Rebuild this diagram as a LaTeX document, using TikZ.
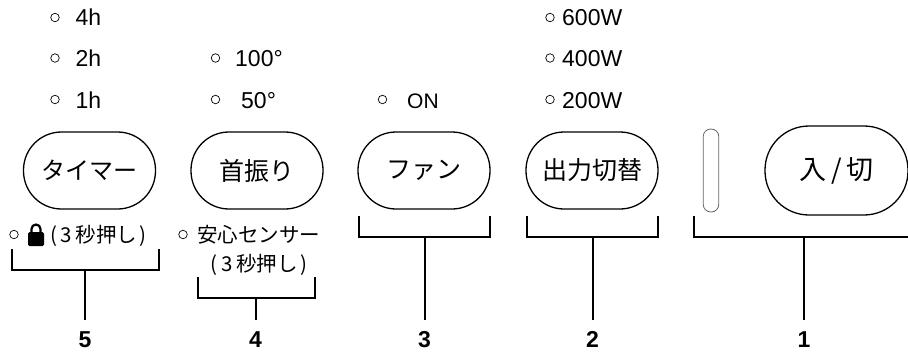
\documentclass[tikz,border=0pt]{standalone}
\usepackage{fontspec}
\setmainfont{Liberation Sans}
\newfontfamily\jpfont{Noto Sans CJK JP}
\begin{document}
\begin{tikzpicture}[x=1pt,y=-1pt,
  btn/.style={draw=black,line width=1.3pt,rounded corners=38pt,minimum width=132pt,minimum height=77pt,inner sep=0pt,anchor=center,font=\jpfont\fontsize{25}{25}\selectfont},
  bracketline/.style={draw=black,line width=2pt,line cap=butt,line join=miter},
  lab/.style={inner sep=0pt,anchor=base west,font=\fontsize{23}{23}\selectfont},
  jp/.style={inner sep=0pt,anchor=base west,font=\jpfont\fontsize{20.5}{20.5}\selectfont},
  num/.style={inner sep=0pt,anchor=base,font=\bfseries\fontsize{23}{23}\selectfont},
  led/.style={draw=black,line width=0.7pt,circle,minimum size=8.5pt,inner sep=0pt}]
\useasboundingbox (0,0) rectangle (908,351);
% indicators and texts
\node[led] (l4h) at (55,17.5) {}; \node[lab] (t4h) at (75.5,25) {4h};
\node[led] (l2h) at (55,58) {};   \node[lab] (t2h) at (75.5,66) {2h};
\node[led] (l1h) at (55,99.5) {}; \node[lab] (t1h) at (75.5,108) {1h};
\node[led] (l100) at (215.5,58) {}; \node[lab] (t100) at (235,66) {100\textdegree};
\node[led] (l50) at (215.5,99.5) {}; \node[lab] (t50) at (241,108) {50\textdegree};
\node[led] (lon) at (382.5,99.5) {}; \node[lab,font=\fontsize{21}{21}\selectfont] (ton) at (407,108) {ON};
\node[led] (l600) at (550,17.5) {}; \node[lab] (t600) at (562,25) {600W};
\node[led] (l400) at (550,58) {};   \node[lab] (t400) at (562,66) {400W};
\node[led] (l200) at (550,99.5) {}; \node[lab] (t200) at (562,108) {200W};
% buttons
\node[btn] (bt) at (89.5,170.5) {\fontsize{24}{24}\selectfont タイマー};
\node[btn] (bn) at (257,170.5) {首振り};
\node[btn] (bf) at (424,170.5) {ファン};
\node[btn] (bo) at (592,170.5) {出力切替};
\node[btn,minimum width=143pt,minimum height=89pt,rounded corners=44pt] (bp) at (836.5,170.5) {\fontsize{27}{27}\selectfont 入\,/\,切};
\node[draw=black!60,line width=0.8pt,rounded corners=7.5pt,minimum width=15.5pt,minimum height=83pt,inner sep=0pt] (slot) at (711,170.5) {};
% notes
\node[led] (llock) at (14,234.5) {};
\fill[black,rounded corners=1.5pt] (28,232) rectangle (44,246);
\draw[black,line width=2.2pt] (31.5,233) -- (31.5,229) arc[start angle=180,end angle=0,radius=4.5pt] -- (40.5,233);
\node[jp] (tlock) at (50,242) {(\hspace{3.5pt}3\hspace{4pt}秒押し\hspace{2.5pt})};
\node[led] (lsafe) at (183,234.5) {};
\node[jp] (tsafe) at (197,242) {安心センサー};
\node[jp] (tsafe2) at (210.5,271) {(\hspace{3.5pt}3\hspace{4pt}秒押し\hspace{2.5pt})};
% brackets
\coordinate (a5) at (85,270); \coordinate (a4) at (255.5,298); \coordinate (a3) at (424.5,237); \coordinate (a2) at (592.5,237); \coordinate (a1) at (804,237);
\node[num] (n5) at (85,347.5) {5};
\node[num] (n4) at (255.5,347.5) {4};
\node[num] (n3) at (424.5,347.5) {3};
\node[num] (n2) at (592.5,347.5) {2};
\node[num] (n1) at (804,347.5) {1};
\draw[bracketline] (12,249) -- (12,270) -- (159,270) -- (159,249);
\draw[bracketline] (197.5,277) -- (197.5,298) -- (314.5,298) -- (314.5,277);
\draw[bracketline] (359,216) -- (359,237) -- (490,237) -- (490,216);
\draw[bracketline] (527,216) -- (527,237) -- (658,237) -- (658,216);
\draw[bracketline] (693.5,216) -- (693.5,237) -- (908,237);
\draw[bracketline] (a5) -- (85,320);
\draw[bracketline] (a4) -- (255.5,320);
\draw[bracketline] (a3) -- (424.5,320);
\draw[bracketline] (a2) -- (592.5,320);
\draw[bracketline] (a1) -- (804,320);
\end{tikzpicture}
\end{document}
